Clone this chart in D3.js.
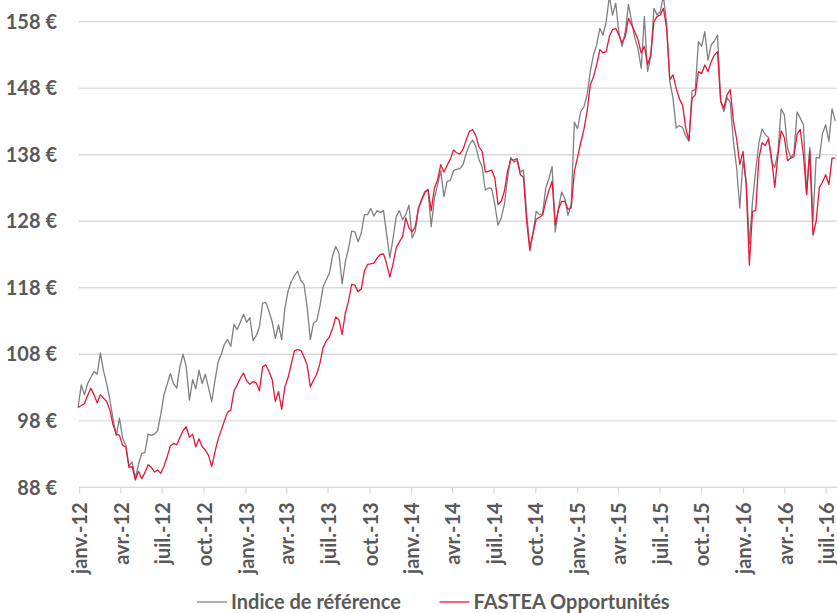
<!DOCTYPE html>
<html>
<head>
<meta charset="utf-8">
<script src="https://cdn.jsdelivr.net/npm/d3@7"></script>
<style>
  body { margin: 0; background: #ffffff; }
  svg { display: block; font-family: Lato, "Liberation Sans", sans-serif; }
  .label { fill: #595959; font-weight: bold; font-size: 20px; }
</style>
</head>
<body>
<div id="chart"></div>
<script>
// chart frame
const FRAME_WIDTH = 837;
const FRAME_HEIGHT = 613;
const PLOT = {left: 79, right: 837, top: 0, bottom: 487.3};

// weekly closes, first week ending 30 Dec 2011
const START_DATE = new Date(2011, 11, 30);

const SERIES_NAMES = ['Indice de référence', 'FASTEA Opportunités'];

const refValues = [
  100.0, 103.4, 101.9, 103.6, 104.5, 105.4, 105.0, 108.2, 105.5, 103.5,
  101.2, 98.2, 95.8, 98.4, 95.4, 94.3, 91.2, 91.8, 89.4, 91.5,
  93.1, 93.2, 96.0, 95.8, 96.0, 96.5, 99.0, 101.9, 103.5, 105.1,
  103.6, 102.9, 106.1, 108.0, 106.1, 101.1, 104.2, 102.8, 105.6, 103.6,
  105.0, 103.0, 100.9, 104.0, 106.8, 108.0, 109.5, 110.2, 109.2, 112.5,
  111.7, 112.8, 114.0, 112.8, 113.5, 110.1, 110.8, 112.1, 115.7, 115.8,
  114.5, 112.9, 110.4, 112.4, 110.2, 114.9, 117.5, 118.9, 119.8, 120.5,
  119.1, 118.5, 115.1, 110.2, 112.7, 113.0, 115.2, 118.1, 119.2, 120.2,
  122.8, 124.2, 123.2, 118.6, 121.9, 123.9, 126.5, 126.4, 124.9, 126.2,
  129.0, 129.0, 129.9, 128.8, 129.6, 129.3, 129.6, 126.0, 122.5, 125.4,
  128.7, 129.6, 128.2, 129.0, 130.4, 125.5, 126.5, 130.0, 131.3, 132.5,
  132.6, 127.2, 131.4, 133.5, 135.6, 131.7, 134.0, 134.1, 135.6, 135.8,
  135.9, 136.5, 138.2, 139.5, 140.2, 139.3, 137.3, 136.2, 132.7, 133.0,
  132.9, 130.5, 127.4, 128.5, 130.5, 134.5, 137.6, 136.9, 137.1, 135.4,
  135.7, 129.1, 124.1, 126.1, 129.5, 129.0, 129.1, 133.0, 134.4, 136.2,
  126.4, 130.0, 132.4, 131.4, 128.9, 130.6, 142.9, 141.9, 144.5, 145.2,
  147.0, 150.5, 153.0, 154.5, 157.0, 156.0, 158.0, 161.8, 159.0, 160.8,
  156.3, 154.3, 156.5, 160.6, 158.0, 155.5, 154.0, 151.0, 158.8, 150.5,
  152.7, 160.0, 159.0, 159.5, 161.8, 157.8, 149.0, 146.5, 142.0, 142.4,
  142.1, 140.8, 140.1, 147.6, 147.8, 155.0, 154.3, 156.5, 152.2, 154.5,
  155.1, 156.0, 146.0, 144.5, 146.6, 145.8, 140.0, 136.0, 130.0, 137.1,
  134.0, 124.6, 131.0, 135.6, 139.8, 141.9, 141.0, 140.6, 137.0, 136.1,
  138.5, 144.9, 144.0, 139.0, 137.6, 138.1, 144.4, 143.5, 142.5, 132.2,
  139.1, 128.1, 137.6, 137.5, 141.2, 142.5, 140.0, 144.9, 143.1
];

const fundValues = [
  100.0, 100.3, 100.6, 101.8, 102.9, 101.9, 100.7, 101.9, 101.4, 100.9,
  99.6, 97.4, 96.0, 95.8, 94.3, 94.1, 91.0, 91.1, 89.1, 90.4,
  89.3, 90.2, 91.4, 91.0, 90.3, 90.6, 90.1, 91.2, 92.6, 94.2,
  94.6, 94.4, 95.5, 96.5, 97.1, 95.5, 96.0, 94.1, 95.3, 94.1,
  93.6, 92.8, 91.1, 93.3, 95.2, 96.6, 98.0, 99.3, 99.6, 102.5,
  103.4, 104.4, 105.2, 104.0, 103.5, 103.9, 103.7, 102.5, 106.1, 106.4,
  105.4, 104.2, 100.9, 102.4, 99.7, 103.1, 104.5, 106.5, 108.5, 108.7,
  108.6, 107.6, 106.4, 103.1, 104.1, 105.0, 106.6, 109.0, 110.0, 110.6,
  111.9, 113.6, 113.2, 111.0, 114.2, 116.0, 118.5, 118.4, 117.4, 117.8,
  120.5, 121.5, 121.6, 121.7, 122.5, 123.0, 123.1, 121.6, 119.6, 121.6,
  124.0, 124.9, 125.7, 128.5, 127.0, 126.4, 127.2, 130.0, 131.2, 132.3,
  132.8, 129.6, 133.0, 134.2, 136.5, 135.4, 136.4, 137.3, 138.7, 138.3,
  138.1, 138.8, 140.2, 141.5, 141.8, 140.9, 139.2, 138.5, 135.4, 135.5,
  135.7, 134.5, 130.5, 131.0, 132.5, 135.5, 137.3, 137.2, 137.4, 135.0,
  134.6, 128.0, 123.6, 126.3, 128.3, 128.6, 128.9, 131.0, 132.6, 134.0,
  127.5, 129.8, 131.0, 131.0, 129.8, 130.0, 135.5, 137.6, 139.8, 141.8,
  144.5, 148.5, 149.7, 151.5, 153.8, 153.3, 153.5, 155.8, 156.8, 157.0,
  156.0, 154.8, 155.8, 158.5, 157.5, 156.5, 155.3, 153.3, 154.3, 151.5,
  153.0, 158.0, 158.8, 159.0, 160.0, 157.0, 149.3, 150.0, 148.0, 146.4,
  145.5, 142.0, 140.1, 146.5, 147.0, 150.5, 150.2, 151.5, 150.5, 152.0,
  153.0, 153.5, 146.0, 145.0, 147.0, 147.8, 143.0, 140.4, 136.5, 138.5,
  133.5, 121.4, 129.5, 129.6, 137.5, 139.8, 139.4, 140.4, 137.4, 133.1,
  138.0, 141.6, 140.6, 137.1, 137.5, 137.7, 141.1, 141.8, 138.0, 132.0,
  138.6, 125.9, 128.0, 133.1, 133.9, 135.0, 133.5, 137.5, 137.5
];

// y ticks and x tick labels
const Y_TICKS = [88, 98, 108, 118, 128, 138, 148, 158];
const MONTHS_FR = ['janv.', 'févr.', 'mars', 'avr.', 'mai', 'juin',
                   'juil.', 'août', 'sept.', 'oct.', 'nov.', 'déc.'];

const COLORS = ['#808080', '#e8173a'];

const dates = refValues.map((v, i) => d3.timeDay.offset(START_DATE, 7 * i));

const svg = d3.select('#chart')
  .append('svg')
    .attr('width', FRAME_WIDTH)
    .attr('height', FRAME_HEIGHT);

// scales
const xscale = d3.scaleTime()
  .domain([new Date(2012, 0, 1), new Date(2016, 6, 1)])
  .range([79, 825.7]);

const yscale = d3.scaleLinear()
  .domain([88, 158])
  .range([PLOT.bottom, 21.7]);

// horizontal gridlines
svg.append('g')
  .selectAll('line')
  .data(Y_TICKS)
  .enter()
  .append('line')
    .attr('x1', PLOT.left)
    .attr('x2', PLOT.right)
    .attr('y1', (d) => yscale(d))
    .attr('y2', (d) => yscale(d))
    .attr('stroke', '#d9d9d9')
    .attr('stroke-width', 1.3);

// y labels
svg.append('g')
  .selectAll('text')
  .data(Y_TICKS)
  .enter()
  .append('text')
    .attr('class', 'label')
    .attr('x', 57)
    .attr('y', (d) => yscale(d))
    .attr('dy', '0.36em')
    .attr('text-anchor', 'end')
    .text((d) => d + ' €');

// x axis with quarterly ticks
const quarters = d3.timeMonth.every(3).range(new Date(2012, 0, 1), new Date(2016, 6, 2));

const xAxis = d3.axisBottom(xscale)
  .tickValues(quarters)
  .tickSize(6)
  .tickFormat((d) => MONTHS_FR[d.getMonth()] + '-' + String(d.getFullYear()).slice(2));

const gx = svg.append('g')
  .attr('transform', 'translate(0,' + PLOT.bottom + ')')
  .call(xAxis);

gx.select('.domain')
  .attr('d', 'M' + PLOT.left + ',0H' + PLOT.right)
  .attr('stroke', '#d9d9d9')
  .attr('stroke-width', 1.3);

gx.selectAll('.tick line')
  .attr('stroke', '#d9d9d9')
  .attr('stroke-width', 1.3);

gx.selectAll('.tick text')
  .attr('class', 'label')
  .attr('transform', 'rotate(-90)')
  .attr('x', -15)
  .attr('y', 0.5)
  .attr('dy', '0.36em')
  .attr('text-anchor', 'end');

gx.attr('font-size', null).attr('font-family', null);

// lines
const line = d3.line()
  .x((d, i) => xscale(dates[i]))
  .y((d) => yscale(d));

[refValues, fundValues].forEach((values, k) => {
  svg.append('path')
    .datum(values)
    .attr('fill', 'none')
    .attr('stroke', COLORS[k])
    .attr('stroke-width', 1.3)
    .attr('stroke-linejoin', 'round')
    .attr('d', line);
});

// legend
const LEGEND_X = [197, 439.5];
const legend = svg.append('g')
  .selectAll('g')
  .data(SERIES_NAMES)
  .enter()
  .append('g')
    .attr('transform', (d, i) => 'translate(' + LEGEND_X[i] + ',602)');

legend.append('line')
  .attr('x1', 0)
  .attr('x2', 30)
  .attr('stroke', (d, i) => COLORS[i])
  .attr('stroke-width', 1.3);

legend.append('text')
  .attr('class', 'label')
  .attr('x', 34)
  .attr('dy', '0.36em')
  .text((d) => d);
</script>
</body>
</html>
